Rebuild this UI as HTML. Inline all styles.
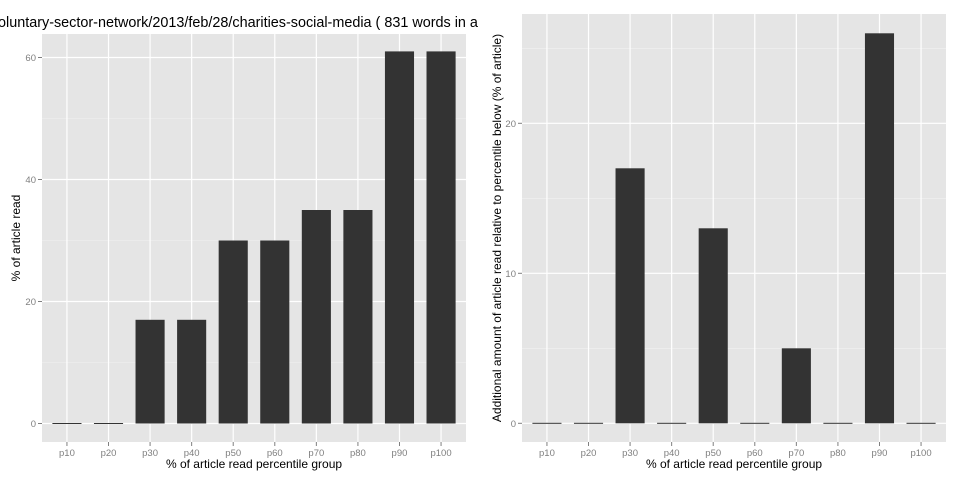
<!DOCTYPE html>
<html><head><meta charset="utf-8"><style>
body{margin:0;background:#fff;}
svg{display:block;font-family:"Liberation Sans",sans-serif;}
</style></head><body>
<svg id="c" width="960" height="480" xmlns="http://www.w3.org/2000/svg"></svg>
<script>
const categories=["p10","p20","p30","p40","p50","p60","p70","p80","p90","p100"];
const leftValues=[0,0,17,17,30,30,35,35,61,61];
const rightValues=[0,0,17,0,13,0,5,0,26,0];
const leftTicks=[0,20,40,60];
const leftMinor=[10,30,50];
const rightTicks=[0,10,20];
const rightMinor=[5,15,25];
const NS="http://www.w3.org/2000/svg";
const svg=document.getElementById('c');
function mk(tag,attrs,parent){const e=document.createElementNS(NS,tag);for(const k in attrs)e.setAttribute(k,attrs[k]);(parent||svg).appendChild(e);return e;}
function panel(x0,x1,y0,y1,zeroY,pxPer,values,ticks,minor,ytitle,yTitleX,prefix){
  const g=mk('g',{});
  
  
  mk('rect',{x:x0,y:y0,width:x1-x0,height:y1-y0,fill:'#e5e5e5'},g);
  const yS=v=>zeroY-v*pxPer;
  const step=(x1-x0)/(categories.length+0.2);
  const xS=i=>x0+(0.6+i)*step;
  minor.forEach(v=>mk('line',{x1:x0,x2:x1,y1:yS(v),y2:yS(v),stroke:'#f2f2f2','stroke-width':0.6},g));
  ticks.forEach(v=>{
    mk('line',{x1:x0,x2:x1,y1:yS(v),y2:yS(v),stroke:'#fff','stroke-width':1.2},g);
    mk('line',{x1:x0-4,x2:x0,y1:yS(v),y2:yS(v),stroke:'#7f7f7f','stroke-width':1},g);
    const t=mk('text',{x:x0-6,y:yS(v)+3.5,'text-anchor':'end','font-size':9.5,fill:'#7f7f7f'},g);
    t.textContent=v;
    
    
  });
  categories.forEach((c,i)=>{
    mk('line',{x1:xS(i),x2:xS(i),y1:y0,y2:y1,stroke:'#fff','stroke-width':1.2},g);
    mk('line',{x1:xS(i),x2:xS(i),y1:y1,y2:y1+4,stroke:'#7f7f7f','stroke-width':1},g);
    const t=mk('text',{x:xS(i),y:y1+14,'text-anchor':'middle','font-size':9.5,fill:'#7f7f7f'},g);
    t.textContent=c;
    
    
  });
  const bw=step*0.7;
  values.forEach((v,i)=>{
    const top=yS(v);
    const r=mk('rect',{x:xS(i)-bw/2,y:Math.min(top,zeroY-0.5),width:bw,height:Math.max(zeroY-top,1),fill:'#333'},g);
    
    
  });
  const xt=mk('text',{x:(x0+x1)/2,y:y1+26,'text-anchor':'middle','font-size':12,fill:'#000'},g);
  xt.textContent='% of article read percentile group';
  
  
  const cy=(y0+y1)/2;
  const yt=mk('text',{x:yTitleX,y:cy,'text-anchor':'middle','font-size':12,fill:'#000',transform:`rotate(-90 ${yTitleX} ${cy})`},g);
  yt.textContent=ytitle;
  
  
}
panel(42,466,34,442,423.5,6.1,leftValues,leftTicks,leftMinor,'% of article read',20,'left');
panel(522,946,14,442,423.3,15,rightValues,rightTicks,rightMinor,'Additional amount of article read relative to percentile below (% of article)',501,'right');
const title=mk('text',{x:-2,y:27,'font-size':14.4,fill:'#000'});
title.textContent='oluntary-sector-network/2013/feb/28/charities-social-media ( 831 words in a';


</script>
</body></html>
